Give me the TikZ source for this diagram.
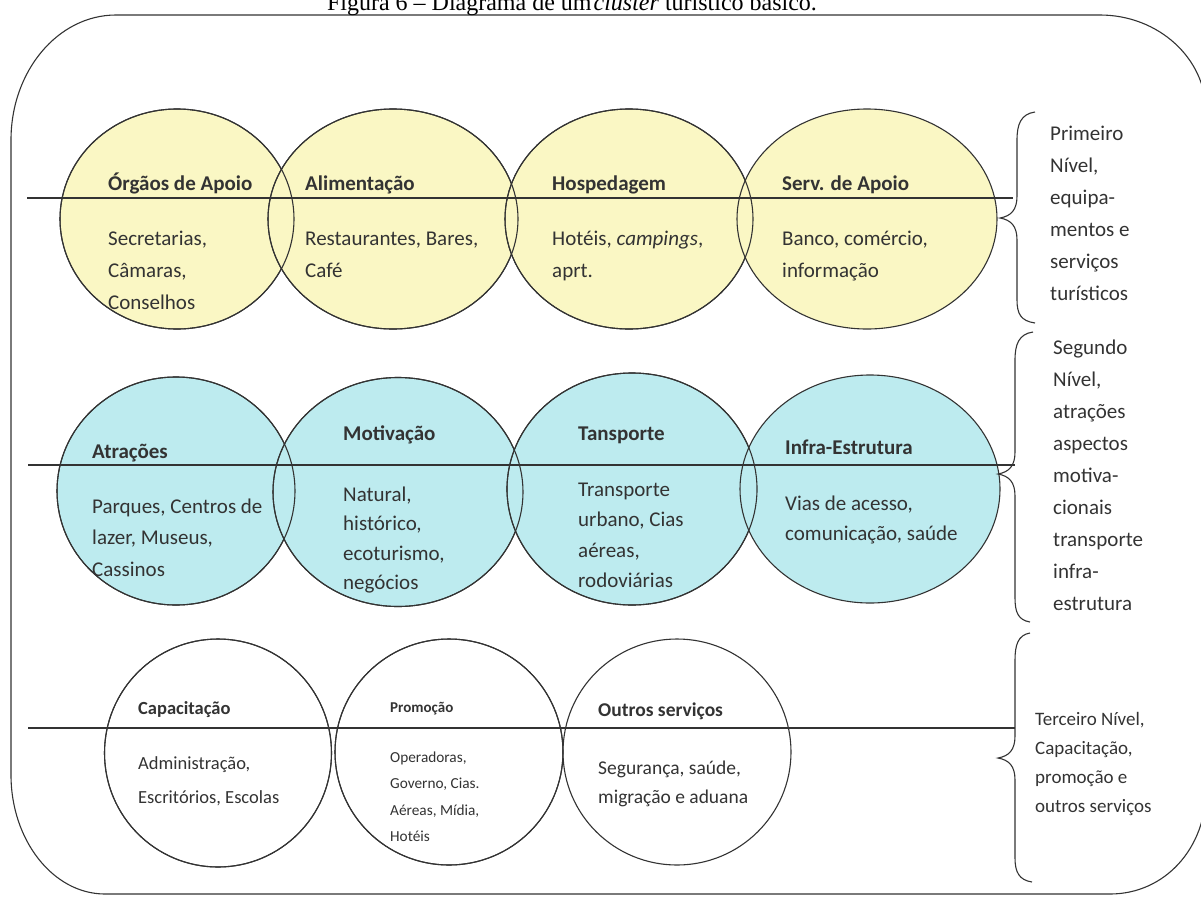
\documentclass[tikz,border=0pt]{standalone}
\usepackage{fontspec}
\setmainfont{Carlito}
\newfontfamily\titlefont{Liberation Serif}
\usetikzlibrary{shapes.geometric}
\definecolor{yel}{HTML}{FAF7C4}
\definecolor{cya}{HTML}{BDEBEF}
\definecolor{ink}{HTML}{333333}
\definecolor{txt}{HTML}{333333}
\begin{document}
\begin{tikzpicture}[x=1pt,y=-1pt,
  ell/.style={ellipse, draw=ink, line width=1.1pt, inner sep=0pt},
  hd/.style={anchor=base west, inner sep=0pt, text=txt, font=\fontsize{21}{32}\selectfont\bfseries},
  bd/.style={anchor=base west, inner sep=0pt, text=txt, align=left, font=\fontsize{21}{32}\selectfont},
  side/.style={anchor=base west, inner sep=0pt, text=txt, align=left, font=\fontsize{21}{32}\selectfont},
  rule/.style={draw=ink, line width=1.1pt},
  brace/.style={draw=ink, line width=1.1pt}]
\useasboundingbox (0,0) rectangle (1201,900);
% outer frame
\draw[rule] (116,15) -- (1100,15) .. controls (1158,15) and (1206,58) .. (1206,112)
  -- (1206,790) .. controls (1206,848) and (1165,894) .. (1110,894)
  -- (105,894) .. controls (53,894) and (11,840) .. (11,775)
  -- (11,140) .. controls (11,71) and (58,15) .. (116,15);
% title
\node[anchor=base, inner sep=0pt, font=\titlefont\fontsize{24}{26}\selectfont] (title) at (572,10) {Figura 6 – Diagrama de um\kern2pt\textit{cluster} turístico básico.};
% row 1 ellipses
\node[ell, fill=yel, minimum width=234pt, minimum height=220pt] (e11) at (177,219) {};
\node[ell, fill=yel, minimum width=250pt, minimum height=220pt] (e12) at (393,219) {};
\node[ell, fill=yel, minimum width=248pt, minimum height=220pt] (e13) at (629,219) {};
\node[ell, fill=yel, minimum width=260pt, minimum height=220pt] (e14) at (867,219) {};
\draw[draw=ink, line width=1.1pt] (e11.center) ellipse [x radius=117, y radius=110];
\draw[draw=ink, line width=1.1pt] (e12.center) ellipse [x radius=125, y radius=110];
\draw[draw=ink, line width=1.1pt] (e13.center) ellipse [x radius=124, y radius=110];
% row 2 ellipses
\node[ell, fill=cya, minimum width=238pt, minimum height=228pt] (e21) at (176,491) {};
\node[ell, fill=cya, minimum width=250pt, minimum height=229pt] (e22) at (398,492) {};
\node[ell, fill=cya, minimum width=250pt, minimum height=232pt] (e23) at (632,489) {};
\node[ell, fill=cya, minimum width=260pt, minimum height=228pt] (e24) at (870,489) {};
\draw[draw=ink, line width=1.1pt] (e21.center) ellipse [x radius=119, y radius=114];
\draw[draw=ink, line width=1.1pt] (e22.center) ellipse [x radius=125, y radius=114.5];
\draw[draw=ink, line width=1.1pt] (e23.center) ellipse [x radius=125, y radius=116];
% row 3 ellipses
\node[ell, fill=white, minimum width=227pt, minimum height=228pt] (e31) at (218,753) {};
\node[ell, fill=white, minimum width=228pt, minimum height=226pt] (e32) at (449,752) {};
\node[ell, fill=white, minimum width=228pt, minimum height=226pt] (e33) at (677,752) {};
\draw[draw=ink, line width=1.1pt] (e31.center) ellipse [x radius=113.5, y radius=114];
\draw[draw=ink, line width=1.1pt] (e32.center) ellipse [x radius=114, y radius=113];
% level rules
\coordinate (r1a) at (27,198); \coordinate (r1b) at (1013,198);
\coordinate (r2a) at (28,465); \coordinate (r2b) at (1015,465);
\coordinate (r3a) at (28,728); \coordinate (r3b) at (1015,728);
\draw[rule] (r1a) -- (r1b);
\draw[rule] (r2a) -- (r2b);
\draw[rule] (r3a) -- (r3b);
% braces
\draw[brace] (1035,112) .. controls (1021,114) and (1017,124) .. (1017,140) -- (1017,196)
  .. controls (1017,210) and (1011,216) .. (1000,218) .. controls (1011,220) and (1017,226) .. (1017,240)
  -- (1017,300) .. controls (1017,314) and (1021,321) .. (1035,323);
\draw[brace] (1033,332) .. controls (1019,334) and (1015,344) .. (1015,360) -- (1015,452)
  .. controls (1015,466) and (1009,472) .. (998,474) .. controls (1009,476) and (1015,482) .. (1015,496)
  -- (1015,598) .. controls (1015,612) and (1018,620) .. (1030,622);
\draw[brace] (1030,633) .. controls (1018,635) and (1015,645) .. (1015,660) -- (1015,736)
  .. controls (1015,750) and (1009,756) .. (998,758) .. controls (1009,760) and (1015,766) .. (1015,780)
  -- (1015,858) .. controls (1015,872) and (1019,880) .. (1032,882);
% row 1 text (base = baseline of last line)
\node[hd] (h11) at (108,190) {Órgãos de Apoio};
\node[bd] (b11) at (108,309) {Secretarias,\\Câmaras,\\Conselhos};
\node[hd] (h12) at (305,190) {Alimentação};
\node[bd] (b12) at (305,277) {Restaurantes, Bares,\\Café};
\node[hd] (h13) at (552,190) {Hospedagem};
\node[bd] (b13) at (552,277) {Hotéis, \textit{campings},\\aprt.};
\node[hd] (h14) at (782,190) {Serv. de Apoio};
\node[bd] (b14) at (782,277) {Banco, comércio,\\informação};
% row 2 text
\node[hd] (h21) at (92,458) {Atrações};
\node[bd, font=\fontsize{21}{31.5}\selectfont] (b21) at (92,576) {Parques, Centros de\\lazer, Museus,\\Cassinos};
\node[hd] (h22) at (343,440) {Motivação};
\node[bd, font=\fontsize{21}{29.5}\selectfont] (b22) at (343,589.5) {Natural,\\histórico,\\ecoturismo,\\negócios};
\node[hd] (h23) at (578,440) {Tansporte};
\node[bd, font=\fontsize{21}{30.5}\selectfont] (b23) at (578,587.5) {Transporte\\urbano, Cias\\aéreas,\\rodoviárias};
\node[hd] (h24) at (785,454) {Infra-Estrutura};
\node[bd, font=\fontsize{21}{30}\selectfont] (b24) at (785,540) {Vias de acesso,\\comunicação, saúde};
% row 3 text
\node[hd, font=\fontsize{18.5}{34}\selectfont\bfseries] (h31) at (138,714) {Capacitação};
\node[bd, font=\fontsize{18.5}{34}\selectfont] (b31) at (138,803) {Administração,\\Escritórios, Escolas};
\node[hd, font=\fontsize{15}{26.5}\selectfont\bfseries] (h32) at (390,712) {Promoção};
\node[bd, font=\fontsize{15.3}{26.5}\selectfont] (b32) at (390,841.5) {Operadoras,\\Governo, Cias.\\Aéreas, Mídia,\\Hotéis};
\node[hd, font=\fontsize{19.5}{29}\selectfont\bfseries] (h33) at (598,716) {Outros serviços};
\node[bd, font=\fontsize{19.5}{29}\selectfont] (b33) at (598,803) {Segurança, saúde,\\migração e aduana};
% side labels
\node[side] (s1) at (1050,300) {Primeiro\\Nível,\\equipa-\\mentos e\\serviços\\turísticos};
\node[side] (s2) at (1053,610) {Segundo\\Nível,\\atrações\\aspectos\\motiva-\\cionais\\transporte\\infra-\\estrutura};
\node[side, font=\fontsize{19}{29}\selectfont] (s3) at (1035,812) {Terceiro Nível,\\Capacitação,\\promoção e\\outros serviços};
\end{tikzpicture}
\end{document}
